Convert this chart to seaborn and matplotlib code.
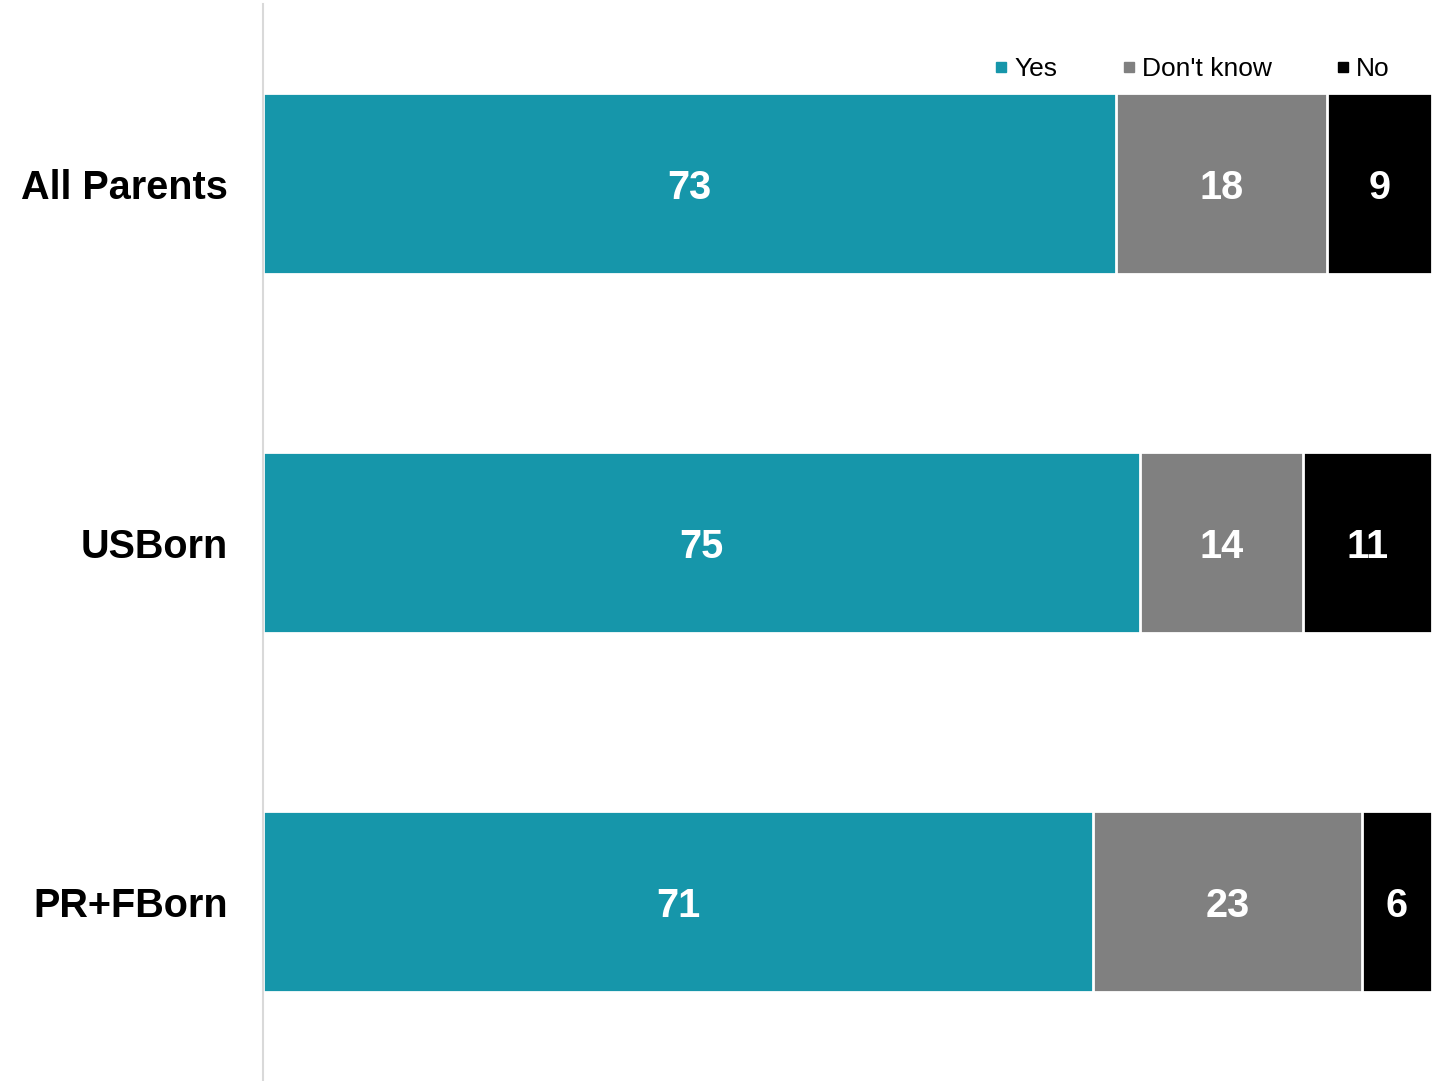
import matplotlib
matplotlib.use('Agg')
from matplotlib import pyplot as plt
from matplotlib.lines import Line2D
import seaborn as sns
import pandas as pd
import numpy as np

# data
groups = ["All Parents", "USBorn", "PR+FBorn"]
yes = [73, 75, 71]
dont_know = [18, 14, 23]
no = [9, 11, 6]

colors = {"Yes": "#1696AA", "Don't know": "#808080", "No": "#000000"}

sns.set_theme(style="white")
plt.rcParams['font.family'] = ['Liberation Sans', 'DejaVu Sans']

fig = plt.figure(figsize=(14.32, 10.81), dpi=100)
ax = fig.add_axes([263 / 1432, 0, 1 - 263 / 1432, 1 - 4 / 1081])

df = pd.DataFrame({"group": groups, "Yes": yes, "Don't know": dont_know, "No": no})
df["c_yes"] = df["Yes"]
df["c_dk"] = df["Yes"] + df["Don't know"]
df["c_no"] = df["c_dk"] + df["No"]

# stacked bars: draw the cumulative totals from widest to narrowest
for col, name in [("c_no", "No"), ("c_dk", "Don't know"), ("c_yes", "Yes")]:
    sns.barplot(data=df, x=col, y="group", orient="h", color=colors[name],
                saturation=1, width=0.505, edgecolor="white", linewidth=2, ax=ax)

# value labels
for i, row in df.iterrows():
    starts = [0, row["c_yes"], row["c_dk"]]
    vals = [row["Yes"], row["Don't know"], row["No"]]
    for s, v in zip(starts, vals):
        ax.text(s + v / 2, i, str(v), ha="center", va="center_baseline",
                color="white", fontsize=28.5, fontweight="bold")

ax.set_xlim(0, 100)
ax.set_ylim(2.5, -0.5)
ax.set_xlabel("")
ax.set_ylabel("")
ax.set_xticks([])
ax.tick_params(axis="y", length=0, pad=25)
for lbl in ax.get_yticklabels():
    lbl.set_fontsize(28.5)
    lbl.set_fontweight("bold")
    lbl.set_color("black")
for s in ["top", "right", "bottom"]:
    ax.spines[s].set_visible(False)
ax.spines["left"].set_color("#d9d9d9")
ax.spines["left"].set_linewidth(1.5)

handles = [Line2D([0], [0], marker="s", linestyle="", color=colors[n],
                  markersize=7, label=n) for n in ["Yes", "Don't know", "No"]]
leg = fig.legend(handles=handles, loc="center right", ncol=3, frameon=False,
                 bbox_to_anchor=(1390 / 1432, 1 - 69 / 1081), fontsize=19,
                 handlelength=0.6, handletextpad=0.2, columnspacing=2.4,
                 borderpad=0, borderaxespad=0)
for t in leg.get_texts():
    t.set_color("black")

fig.savefig("out.png", dpi=100)
